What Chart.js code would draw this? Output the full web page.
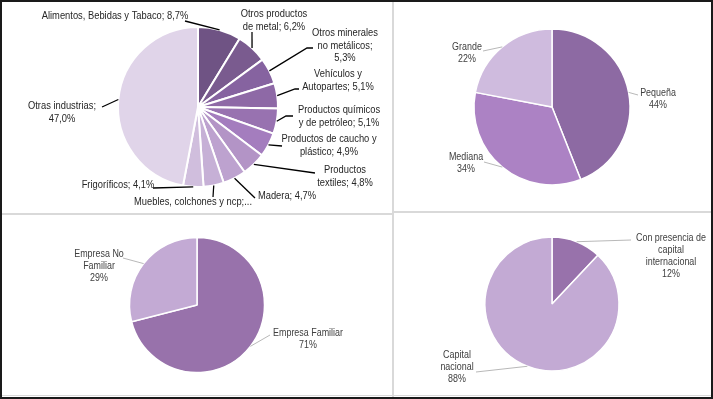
<!DOCTYPE html>
<html><head><meta charset="utf-8">
<script src="https://cdn.jsdelivr.net/npm/chart.js@4"></script>
<style>
html,body{margin:0;padding:0;background:#fff;}
#wrap{position:relative;width:713px;height:399px;overflow:hidden;background:#fff;}
canvas{position:absolute;left:0;top:0;}
.ln{position:absolute;background:#d9d9d9;}
</style></head><body>
<div id="wrap">
<div class="ln" style="left:392px;top:0;width:2px;height:399px"></div>
<div class="ln" style="left:0;top:213px;width:393px;height:2px"></div>
<div class="ln" style="left:394px;top:211px;width:319px;height:2px"></div>
<div class="ln" style="left:0;top:395px;width:713px;height:1px"></div>
<canvas id="c1" width="713" height="399"></canvas>
<canvas id="c2" width="713" height="399"></canvas>
<canvas id="c3" width="713" height="399"></canvas>
<canvas id="c4" width="713" height="399"></canvas>
<div style="position:absolute;left:0;top:0;width:713px;height:399px;box-sizing:border-box;border:2px solid #1a1a1a;"></div>
</div>
<script>
// ---- data ----
const sectorLabels = ['Alimentos, Bebidas y Tabaco','Otros productos de metal','Otros minerales no metálicos','Vehículos y Autopartes','Productos químicos y de petróleo','Productos de caucho y plástico','Productos textiles','Madera','Muebles, colchones y ncp','Frigoríficos','Otras industrias'];
const sectorValues = [8.7, 6.2, 5.3, 5.1, 5.1, 4.9, 4.8, 4.7, 4.1, 4.1, 47.0];
const sizeLabels = ['Pequeña','Mediana','Grande'];
const sizeValues = [44, 34, 22];
const familyLabels = ['Empresa Familiar','Empresa No Familiar'];
const familyValues = [71, 29];
const capitalLabels = ['Con presencia de capital internacional','Capital nacional'];
const capitalValues = [12, 88];

// ---- styles ----
const sectorColors = ['#6f5384','#7a5b8f','#8663a0','#8e69a6','#9872b0','#a47dbe','#b394c6','#bda2cf','#c6b0d6','#d0bedd','#e0d4e9'];
const sizeColors = ['#8d6aa3','#ac82c4','#cfbbde'];
const familyColors = ['#9872ab','#c3aad4'];
const capitalColors = ['#9872ab','#c3aad4'];
const FONT = '"Liberation Sans",Arial,sans-serif';

function wrapWords(str, counts){
  const w = str.split(' '); const out = []; let i = 0;
  counts.forEach(c => { out.push(w.slice(i, i + c).join(' ')); i += c; });
  if (i < w.length) out.push(w.slice(i).join(' '));
  return out;
}
const dec = v => v.toFixed(1).replace('.', ',') + '%';

// label layouts (text anchor + leader path)
const sectorLayout = [
  {x:115,y:16,wrap:[],line:[[185,21]]},
  {x:274,y:14,wrap:[2],line:[[252,32]]},
  {x:345,y:33,wrap:[2,2],line:[[307,48],[313,48]]},
  {x:338,y:74,wrap:[2],line:[[295,89],[299,89]]},
  {x:339,y:110,wrap:[2],line:[[286,116],[293,116]]},
  {x:329,y:139,wrap:[4],line:[[282,146]]},
  {x:345,y:170,wrap:[1],line:[[315,173]]},
  {x:287,y:196,wrap:[],line:[[255,198]]},
  {x:193,y:202,wrap:[],line:[[213,197]],trunc:true},
  {x:118,y:185,wrap:[],line:[[153,188]]},
  {x:62,y:106,wrap:[2],line:[[102,107]]}
];
const sizeLayout = [
  {x:658,y:93,wrap:[],line:[[638,95]]},
  {x:466,y:157,wrap:[],line:[[484,162]]},
  {x:467,y:47,wrap:[],line:[[483,51]]}
];
const familyLayout = [
  {x:308,y:333,wrap:[],line:[[270,335]]},
  {x:99,y:254,wrap:[2],line:[[123,258]]}
];
const capitalLayout = [
  {x:671,y:238,wrap:[3,1],line:[[631,240]]},
  {x:457,y:355,wrap:[1],line:[[476,372]]}
];

function sectorText(i){
  const name = sectorLabels[i];
  const L = sectorLayout[i];
  if (L.trunc) return [name + ';...'];
  return wrapWords(name + '; ' + dec(sectorValues[i]), L.wrap);
}
function pctText(labels, values, layout){
  return i => wrapWords(labels[i], layout[i].wrap).concat([Math.round(values[i]) + '%']);
}

const leaderLabels = {
  id: 'leaderLabels',
  afterDatasetsDraw(chart, args, opts){
    const ctx = chart.ctx; const meta = chart.getDatasetMeta(0);
    ctx.save();
    opts.layout.forEach((it, i) => {
      const p = meta.data[i].getProps(['x','y','startAngle','endAngle','outerRadius'], true);
      const mid = (p.startAngle + p.endAngle) / 2;
      const sx = p.x + Math.cos(mid) * p.outerRadius, sy = p.y + Math.sin(mid) * p.outerRadius;
      ctx.beginPath(); ctx.moveTo(sx, sy);
      it.line.forEach(q => ctx.lineTo(q[0], q[1]));
      ctx.strokeStyle = opts.lineColor; ctx.lineWidth = opts.lineWidth; ctx.stroke();
      ctx.fillStyle = opts.color; ctx.font = opts.font;
      ctx.textAlign = 'center'; ctx.textBaseline = 'middle';
      opts.text(i).forEach((t, k) => {
        ctx.save();
        ctx.translate(it.x, it.y + k * opts.lh);
        ctx.scale(opts.sx, 1);
        ctx.fillText(t, 0, 0);
        ctx.restore();
      });
    });
    ctx.restore();
  }
};

function makePie(id, labels, values, colors, cx, cy, r, bw, lab){
  const S = 2 * r + bw;
  new Chart(document.getElementById(id), {
    type: 'pie',
    data: { labels: labels, datasets: [{ data: values, backgroundColor: colors, borderColor: '#ffffff', borderWidth: bw }] },
    options: {
      responsive: false, animation: false, events: [],
      layout: { padding: { left: cx - S/2, right: 713 - cx - S/2, top: cy - S/2, bottom: 399 - cy - S/2 } },
      plugins: { legend: { display: false }, tooltip: { enabled: false }, leaderLabels: lab }
    },
    plugins: [leaderLabels]
  });
}

makePie('c1', sectorLabels, sectorValues, sectorColors, 198, 107, 80, 2,
  { layout: sectorLayout, text: sectorText, color: '#262626', font: '11px ' + FONT, lh: 12.5, sx: 0.85, lineColor: '#000', lineWidth: 1.3 });
makePie('c2', sizeLabels, sizeValues, sizeColors, 552, 107, 78, 1.5,
  { layout: sizeLayout, text: pctText(sizeLabels, sizeValues, sizeLayout), color: '#404040', font: '10.5px ' + FONT, lh: 12.5, sx: 0.85, lineColor: '#a6a6a6', lineWidth: 0.8 });
makePie('c3', familyLabels, familyValues, familyColors, 197, 305, 67.5, 1.5,
  { layout: familyLayout, text: pctText(familyLabels, familyValues, familyLayout), color: '#404040', font: '10.5px ' + FONT, lh: 12, sx: 0.85, lineColor: '#a6a6a6', lineWidth: 0.8 });
makePie('c4', capitalLabels, capitalValues, capitalColors, 552, 304, 67, 1.5,
  { layout: capitalLayout, text: pctText(capitalLabels, capitalValues, capitalLayout), color: '#404040', font: '10.5px ' + FONT, lh: 12, sx: 0.85, lineColor: '#a6a6a6', lineWidth: 0.8 });
</script>
</body></html>
